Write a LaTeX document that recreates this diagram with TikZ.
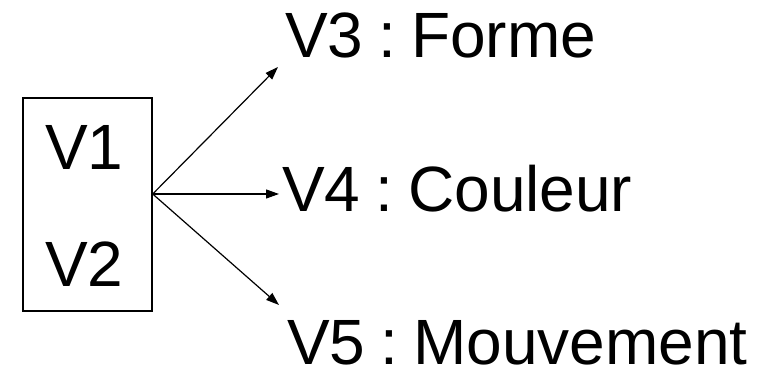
\documentclass[tikz,border=0pt]{standalone}
\usepackage{fontspec}
\setmainfont{Liberation Sans}
\usetikzlibrary{arrows.meta}

\tikzset{%
        var box/.style={
            draw,
            line width=1.4pt,
            minimum width=129pt,
            minimum height=213pt,
            inner sep=0pt
        },
        var text/.style={
            anchor=base west,
            inner sep=0pt,
            font=\fontsize{64}{70}\selectfont
        },
    }

\begin{document}
\begin{tikzpicture}[x=1pt, y=1pt, >={Triangle[length=13pt,width=9pt]}]

        \useasboundingbox (0,0) rectangle (771,369);

        \node [var box] (box) at (87.5,164.5) {};
        \node [var text] (v1) at (45,199) {V1};
        \node [var text] (v2) at (45,82) {V2};

        \coordinate (src) at ([yshift=10.5pt]box.east);

        \foreach \n/\t/\x/\y in {3/Forme/285/311, 4/Couleur/282/157, 5/Mouvement/287/4}
        \node [var text] (v\n) at (\x,\y) {V\n\hspace{15pt}:\hspace{15pt}\t};

        \coordinate (tip-3) at (278,302);
        \coordinate (tip-4) at (279,175);
        \coordinate (tip-5) at (279,64);

        \foreach \n in {3,4,5}
            \draw [->, line width=1.2pt] (src) -- (tip-\n);
    \end{tikzpicture}
\end{document}
